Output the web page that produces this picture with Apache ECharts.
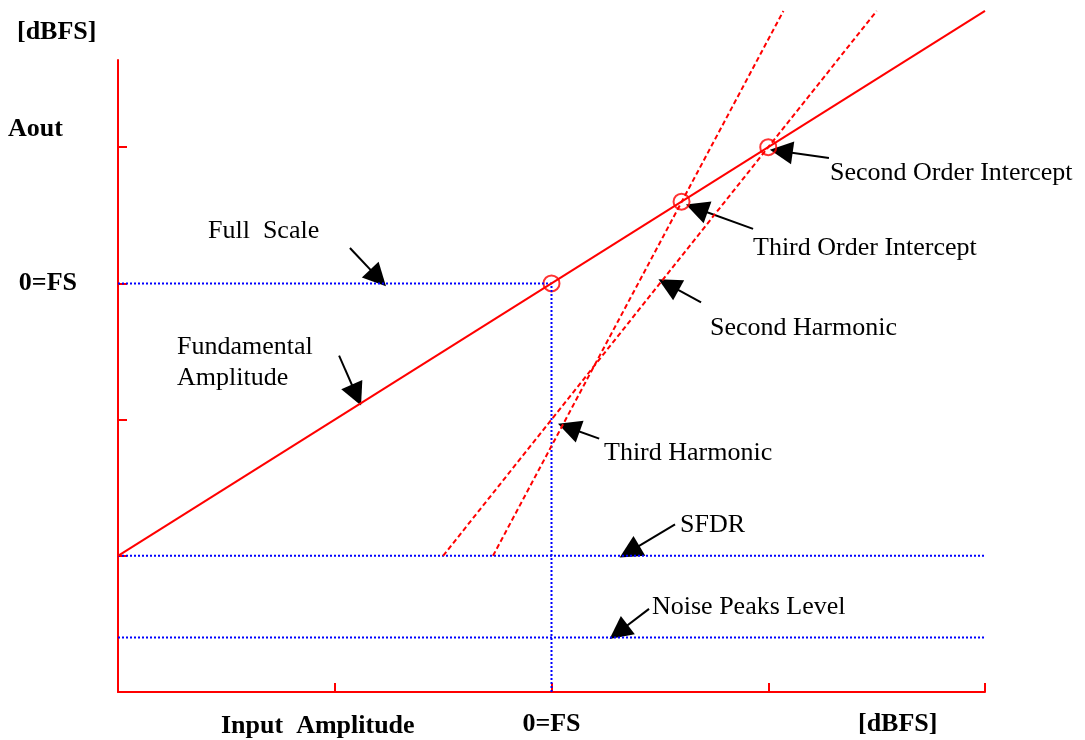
<!DOCTYPE html>
<html>
<head>
<meta charset="utf-8">
<title>Intercept diagram</title>
<script src="https://cdn.jsdelivr.net/npm/echarts@6/dist/echarts.min.js"></script>
<style>
    html, body { margin: 0; padding: 0; background: #fff; }
    #chart { width: 1085px; height: 740px; }
</style>
</head>
<body>
<div id="chart"></div>
<script>
// axis steps (input / output, one unit per tick)
let xTicks = [0, 1, 2, 3, 4];
let yTicks = [0, 1, 2, 3, 4];
let fullScale = 2;          // input 0=FS sits on the 3rd x tick
let fullScaleOut = 3;       // output 0=FS level

// transfer curves: [input, output]
let fundamental = [[0, 1], [4, 5]];
let secondHarmonic = [[1.5, 1], [3.5, 5]];
let thirdHarmonic = [[1.73, 1], [3.07, 5]];

// dotted reference levels
let fsGuide = [[0, 3], [2, 3], [2, 0]];
let sfdrLevel = [[0, 1], [4, 1]];
let noiseLevel = [[0, 0.4], [4, 0.4]];

// intercept points
let intercepts = [[2, 3], [2.6, 3.6], [3, 4]];

// annotation arrows: tail -> head
let arrows = [
    [[1.07, 3.26], [1.20, 3.04]],
    [[1.02, 2.47], [1.10, 2.18]],
    [[3.28, 3.92], [3.06, 3.97]],
    [[2.93, 3.40], [2.67, 3.55]],
    [[2.69, 2.86], [2.54, 2.99]],
    [[2.22, 1.86], [2.08, 1.94]],
    [[2.57, 1.23], [2.36, 1.03]],
    [[2.45, 0.61], [2.31, 0.44]]
];

const SERIF = '"Liberation Serif", "Times New Roman", serif';
const RED = '#ff0000';
const BLUE = '#0000ff';

let chart = echarts.init(document.getElementById('chart'), null, { renderer: 'canvas' });

function txt(text, x, y, bold) {
    return {
        type: 'text',
        style: {
            text: text,
            x: x,
            y: y,
            fill: '#000',
            font: (bold ? 'bold ' : '') + '26px ' + SERIF,
            align: 'left',
            verticalAlign: 'middle'
        }
    };
}

function dotted(data) {
    return {
        type: 'line',
        data: data,
        symbol: 'none',
        silent: true,
        lineStyle: { color: BLUE, width: 2, type: [2, 2] }
    };
}

function redLine(data, dashed) {
    return {
        type: 'line',
        data: data,
        symbol: 'none',
        clip: false,
        silent: true,
        lineStyle: { color: RED, width: 2, type: dashed ? [5, 3] : 'solid' }
    };
}

let option = {
    animation: false,
    backgroundColor: '#fff',
    grid: { left: 118, right: 100, top: 60, bottom: 48 },
    xAxis: {
        type: 'value',
        min: xTicks[0],
        max: xTicks[xTicks.length - 1],
        interval: 1,
        axisLine: { lineStyle: { color: RED, width: 2 } },
        axisTick: { inside: true, length: 9, lineStyle: { color: RED, width: 2 } },
        splitLine: { show: false },
        axisLabel: {
            customValues: [fullScale],
            formatter: () => '0=FS',
            margin: 32,
            verticalAlign: 'middle',
            color: '#000',
            fontFamily: SERIF,
            fontWeight: 'bold',
            fontSize: 26
        }
    },
    yAxis: {
        type: 'value',
        min: 0,
        max: 4.64,
        interval: 1,
        axisLine: { lineStyle: { color: RED, width: 2 } },
        axisTick: { inside: true, length: 9, customValues: yTicks, lineStyle: { color: RED, width: 2 } },
        splitLine: { show: false },
        axisLabel: {
            customValues: [fullScaleOut],
            formatter: () => '0=FS',
            margin: 41,
            color: '#000',
            fontFamily: SERIF,
            fontWeight: 'bold',
            fontSize: 26
        }
    },
    graphic: [
        txt('[dBFS]', 17, 32, true),
        txt('Aout', 8, 129, true),
        txt('Input  Amplitude', 221, 726, true),
        txt('[dBFS]', 858, 724, true),
        txt('Full  Scale', 208, 231),
        txt('Fundamental', 177, 347),
        txt('Amplitude', 177, 378),
        txt('Second Order Intercept', 830, 173),
        txt('Third Order Intercept', 753, 248),
        txt('Second Harmonic', 710, 328),
        txt('Third Harmonic', 604, 453),
        txt('SFDR', 680, 525),
        txt('Noise Peaks Level', 652, 607)
    ],
    series: [
        dotted(fsGuide),
        dotted(sfdrLevel),
        dotted(noiseLevel),
        redLine(fundamental, false),
        redLine(secondHarmonic, true),
        redLine(thirdHarmonic, true),
        {
            type: 'scatter',
            data: intercepts,
            symbol: 'circle',
            symbolSize: 16,
            silent: true,
            itemStyle: { color: 'rgba(0,0,0,0)', borderColor: RED, borderWidth: 2 }
        },
        {
            type: 'lines',
            coordinateSystem: 'cartesian2d',
            silent: true,
            symbol: ['none', 'triangle'],
            symbolSize: [19, 23],
            lineStyle: { color: '#000', width: 2, opacity: 1 },
            itemStyle: { color: '#000' },
            data: arrows.map(a => ({ coords: a }))
        }
    ]
};

chart.setOption(option);
</script>
</body>
</html>
